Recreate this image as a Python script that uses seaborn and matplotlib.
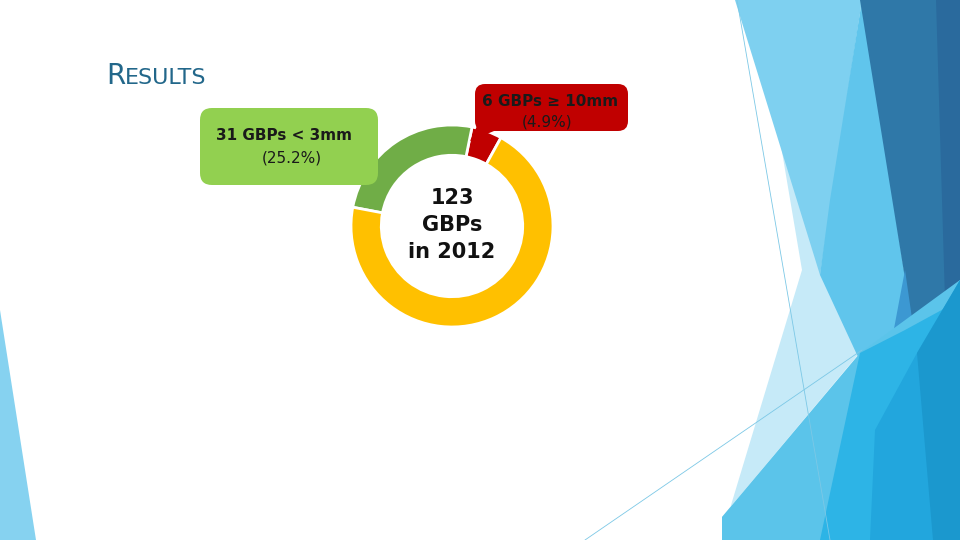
import numpy as np
import matplotlib.pyplot as plt
import seaborn as sns
from matplotlib.patches import Polygon, FancyBboxPatch

# data
groups = ['GBPs ≥ 10mm', 'GBPs < 3mm', 'GBPs 3-10mm']
counts = [6, 31, 86]
ring_colors = ['#C00000', '#70AD47', '#FFC000']
year = 2012
total = sum(counts)
pct = [round(100 * c / total, 1) for c in counts]

sns.set_theme(style='white')
plt.rcParams['font.family'] = ['DejaVu Sans']

fig = plt.figure(figsize=(9.6, 5.4), dpi=100)

# slide background decoration (pixel coords)
bg = fig.add_axes([0, 0, 1, 1])
bg.set_xlim(0, 960)
bg.set_ylim(540, 0)
bg.axis('off')
shapes = [
    ('#C6EAF8', [(778, 128), (862, 350), (722, 517), (722, 535), (802, 270)]),
    ('#7ED0F0', [(735, 0), (862, 0), (820, 275)]),
    ('#60C5EC', [(862, 0), (917, 353), (878, 400), (820, 275), (830, 200)]),
    ('#2F78A8', [(860, 0), (960, 0), (960, 280), (917, 353)]),
    ('#2A6A9D', [(936, 0), (960, 0), (960, 280), (945, 300)]),
    ('#3C98D2', [(905, 270), (917, 353), (960, 280), (960, 320), (875, 430)]),
    ('#5BC4EA', [(722, 517), (860, 353), (960, 280), (960, 540), (722, 540)]),
    ('#2DB4E6', [(860, 353), (905, 330), (960, 300), (960, 540), (820, 540)]),
    ('#22A6DD', [(917, 353), (960, 280), (960, 540), (870, 540), (875, 430)]),
    ('#1B98CE', [(917, 353), (960, 280), (960, 540), (933, 540)]),
    ('#86D2F0', [(0, 310), (36, 540), (0, 540)]),
]
for c, pts in shapes:
    bg.add_patch(Polygon(pts, closed=True, fc=c, ec='none'))
bg.plot([737, 830], [0, 540], color='#7CC8E6', lw=0.6)
bg.plot([585, 862], [540, 350], color='#7CC8E6', lw=0.6)

# donut
ax = fig.add_axes([(452 - 101) / 960, 1 - (226 + 101) / 540, 202 / 960, 202 / 540])
ax.pie(counts, colors=ring_colors, startangle=61, counterclock=True, radius=1,
       wedgeprops=dict(width=0.3, edgecolor='white', linewidth=2))
ax.set_xlim(-1, 1)
ax.set_ylim(-1, 1)
ax.axis('off')
ax.text(0, 0.01, f'{total}\nGBPs\nin {year}', ha='center', va='center',
        fontsize=15, weight='bold', linespacing=1.45, color='#111111')

# overlay with title and callouts
ov = fig.add_axes([0, 0, 1, 1])
ov.set_xlim(0, 960)
ov.set_ylim(540, 0)
ov.axis('off')

ov.text(106, 84, 'R', fontsize=20, color='#22678A', va='baseline')
ov.text(125, 84, 'ESULTS', fontsize=16, color='#22678A', va='baseline')

ov.add_patch(FancyBboxPatch((200, 108), 178, 77, boxstyle='round,pad=0,rounding_size=12',
                            fc='#92D050', ec='none'))
ov.add_patch(Polygon([(478, 124), (494, 131), (470, 141)], closed=True, fc='#C00000', ec='none'))
ov.add_patch(FancyBboxPatch((475, 84), 153, 47, boxstyle='round,pad=0,rounding_size=10',
                            fc='#C00000', ec='none'))

ov.text(284, 136, f'{counts[1]} {groups[1]}', ha='center', va='center',
        fontsize=11, weight='bold', color='#1A1A1A')
ov.text(292, 158, f'({pct[1]}%)', ha='center', va='center', fontsize=11, color='#1A1A1A')
ov.text(550, 101, f'{counts[0]} {groups[0]}', ha='center', va='center',
        fontsize=11, weight='bold', color='#1A1A1A')
ov.text(547, 122, f'({pct[0]}%)', ha='center', va='center', fontsize=11, color='#1A1A1A')

fig.savefig('out.png', dpi=100)
